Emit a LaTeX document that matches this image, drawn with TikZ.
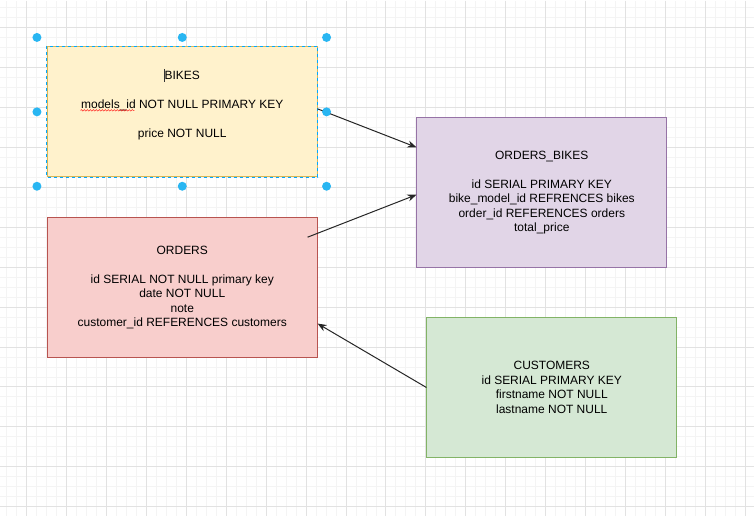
\documentclass[tikz,border=0pt]{standalone}
\usepackage{fontspec}
\setmainfont{Liberation Sans}
\usetikzlibrary{positioning, calc, arrows.meta, decorations.pathmorphing}
\definecolor{BikeFill}{HTML}{FFF2CC}
\definecolor{BikeLine}{HTML}{D6B656}
\definecolor{LinkFill}{HTML}{E1D5E7}
\definecolor{LinkLine}{HTML}{9673A6}
\definecolor{OrderFill}{HTML}{F8CECC}
\definecolor{OrderLine}{HTML}{B85450}
\definecolor{CustFill}{HTML}{D5E8D4}
\definecolor{CustLine}{HTML}{82B366}
\definecolor{SelBlue}{HTML}{00A8FF}
\definecolor{HandleBlue}{HTML}{29B6F2}
\definecolor{GridMinor}{HTML}{F4F4F4}
\definecolor{GridMajor}{HTML}{E2E2E2}

\begin{document}
\begin{tikzpicture}[
			x=1pt, y=-1pt,
			table/.style={rectangle, draw, line width=1pt, anchor=north west, inner sep=0pt, align=center, font=\fontsize{12}{14.5}\selectfont},
			link/.style={-{Stealth[length=9pt, width=7pt]}, line width=1pt, draw=black!85},
			handle/.style={fill=HandleBlue},
			]
			% grid of the canvas
			\fill[white] (0,0) rectangle (754,516);
			\foreach \gx in {6,16,...,746} \draw[GridMinor, line width=1pt] (\gx,0) -- (\gx,516);
			\foreach \gy in {7,17,...,507} \draw[GridMinor, line width=1pt] (0,\gy) -- (754,\gy);
			\foreach \gx in {26,66,...,746} \draw[GridMajor, line width=1pt] (\gx,0) -- (\gx,516);
			\foreach \gy in {27,67,...,507} \draw[GridMajor, line width=1pt] (0,\gy) -- (754,\gy);
			\useasboundingbox (0,0) rectangle (754,516);
			
			\node (bikes) [table, fill=BikeFill, draw=BikeLine, minimum width=270pt, minimum height=130pt] at (46.5,46) {BIKES\\[14.5pt] models\_id NOT NULL PRIMARY KEY\\[14.5pt] price NOT NULL\\ \mbox{}};
			\node (obikes) [table, fill=LinkFill, draw=LinkLine, minimum width=250pt, minimum height=150pt] at (416.5,117) {ORDERS\_BIKES\\[14.5pt] id SERIAL PRIMARY KEY\\ bike\_model\_id REFRENCES bikes\\ order\_id REFERENCES orders\\ total\_price};
			\node (orders) [table, fill=OrderFill, draw=OrderLine, minimum width=270pt, minimum height=140pt] at (46.5,217) {ORDERS\\[14.5pt] id SERIAL NOT NULL primary key\\ date NOT NULL\\ note\\ customer\_id REFERENCES customers};
			\node (customers) [table, fill=CustFill, draw=CustLine, minimum width=250pt, minimum height=140pt] at (426.5,317) {CUSTOMERS\\ id SERIAL PRIMARY KEY\\ firstname NOT NULL\\ lastname NOT NULL};
			
			% selected shape: dashed frame, spell mark and text cursor
			\draw[SelBlue, line width=1pt, dash pattern=on 3pt off 3pt] (bikes.north west) rectangle (bikes.south east);
			\draw[red, decorate, decoration={snake, segment length=3pt, amplitude=0.8pt}] ($(bikes.center)+(-102,-1.5)$) -- ($(bikes.center)+(-48,-1.5)$);
			\draw[black!80, line width=0.8pt] ($(bikes.center)+(-18,-43)$) -- ($(bikes.center)+(-18,-30)$);
			
			\draw[link] ([yshift=3pt]bikes.east) -- ($(obikes.north west)+(0,30)$);
			\draw[link] ($(orders.north east)+(-10,20)$) -- ([yshift=-2pt]obikes.west);
			\draw[link] (customers.west) -- ([yshift=-36pt]orders.east);
			
			% handles round the selection
			\foreach \a/\dx/\dy in {north west/-10/-9, north/0/-9, north east/9/-9, west/-10/0, east/9/0, south west/-10/9, south/0/9, south east/9/9}
				\fill[handle] ($(bikes.\a)+(\dx,\dy)$) circle (4.5);
		\end{tikzpicture}
\end{document}
